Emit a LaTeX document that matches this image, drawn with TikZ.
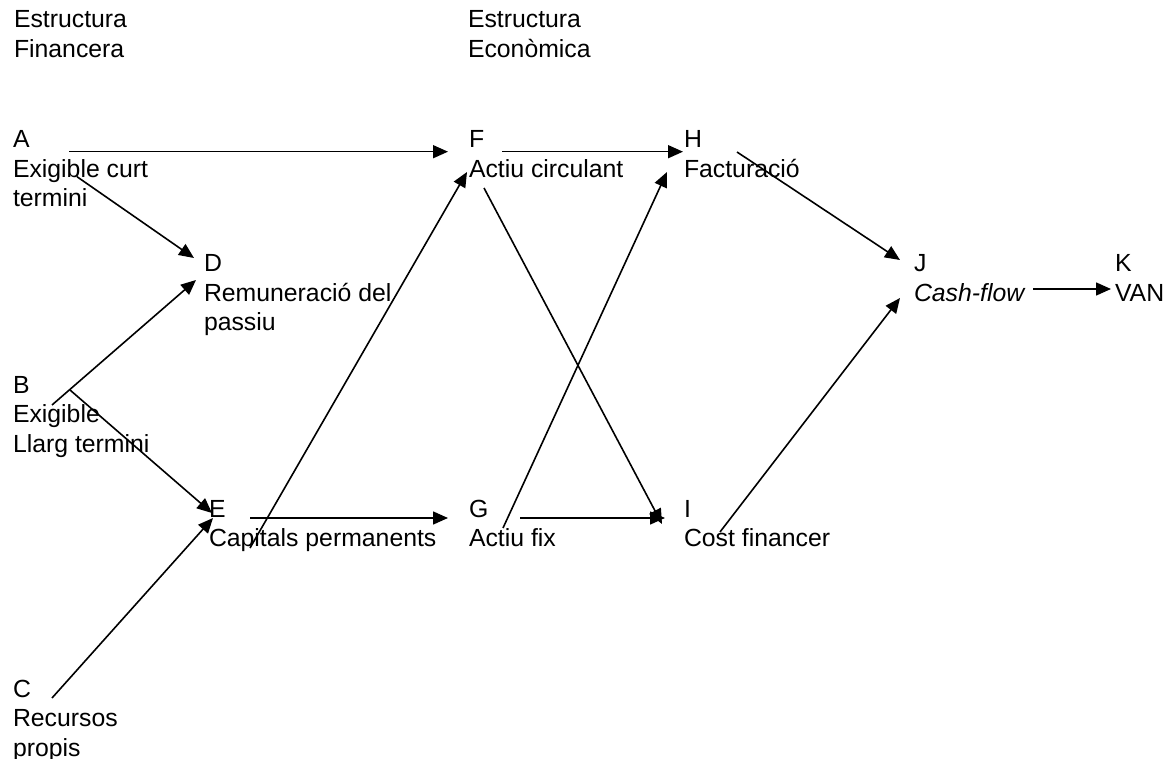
\documentclass[tikz,border=0pt]{standalone}
\usepackage{fontspec}
\setmainfont{Liberation Sans}
\usetikzlibrary{arrows.meta}
\newcommand\mylines[1]{\vtop{\halign{##\hfil\cr#1\crcr}}}
\tikzset{
  lbl/.style={anchor=base west, inner sep=0pt, outer sep=0pt, font=\fontsize{24.8}{29.5}\selectfont},
  arr/.style={line width=1.6pt, -{Triangle[length=15pt,width=13pt]}}
}
\begin{document}
\begin{tikzpicture}[x=1pt,y=-1pt]
\useasboundingbox (0,0) rectangle (1176,759);
\node[lbl] (T1) at (14,28) {\mylines{Estructura\cr Financera}};
\node[lbl] (T2) at (468,28) {\mylines{Estructura\cr Econòmica}};
\node[lbl] (A) at (13,148) {\mylines{A\cr Exigible curt\cr termini}};
\node[lbl] (D) at (204,272) {\mylines{D\cr Remuneració del\cr passiu}};
\node[lbl] (B) at (13,393) {\mylines{B\cr Exigible\cr Llarg termini}};
\node[lbl] (E) at (209,517) {\mylines{E\cr Capitals permanents}};
\node[lbl] (C) at (13,697) {\mylines{C\cr Recursos\cr propis}};
\node[lbl] (F) at (469,148) {\mylines{F\cr Actiu circulant}};
\node[lbl] (H) at (684,148) {\mylines{H\cr Facturació}};
\node[lbl] (G) at (469,517) {\mylines{G\cr Actiu fix}};
\node[lbl] (I) at (684,517) {\mylines{I\cr Cost financer}};
\node[lbl] (J) at (914,272) {\mylines{J\cr \textit{Cash-flow}}};
\node[lbl] (K) at (1115,272) {\mylines{K\cr VAN}};
\draw[arr] ([shift={(56,3.7)}]A.base west) -- ([shift={(-21,3.7)}]F.base west);
\draw[arr] ([shift={(64,28.7)}]A.base west) -- ([shift={(-10,-14)}]D.base west);
\draw[arr] ([shift={(39,12)}]B.base west) -- ([shift={(-8,8)}]D.base west);
\draw[arr] ([shift={(57,-3)}]B.base west) -- ([shift={(3,-4)}]E.base west);
\draw[arr] ([shift={(39,1)}]C.base west) -- ([shift={(4,1)}]E.base west);
\draw[arr] ([shift={(41,1)}]E.base west) -- ([shift={(-21,1)}]G.base west);
\draw[arr] ([shift={(41,31)}]E.base west) -- ([shift={(-2,24)}]F.base west);
\draw[arr] ([shift={(33,3.7)}]F.base west) -- ([shift={(-1,3.7)}]H.base west);
\draw[arr] ([shift={(15,40)}]F.base west) -- ([shift={(-22,7)}]I.base west);
\draw[arr] ([shift={(34,11)}]G.base west) -- ([shift={(-17,24)}]H.base west);
\draw[arr] ([shift={(51,1)}]G.base west) -- ([shift={(-19,1)}]I.base west);
\draw[arr] ([shift={(53,4)}]H.base west) -- ([shift={(-14,-12)}]J.base west);
\draw[arr] ([shift={(36,15)}]I.base west) -- ([shift={(-14,26)}]J.base west);
\draw[arr] ([shift={(119,17)}]J.base west) -- ([shift={(-4,17)}]K.base west);
\end{tikzpicture}
\end{document}
